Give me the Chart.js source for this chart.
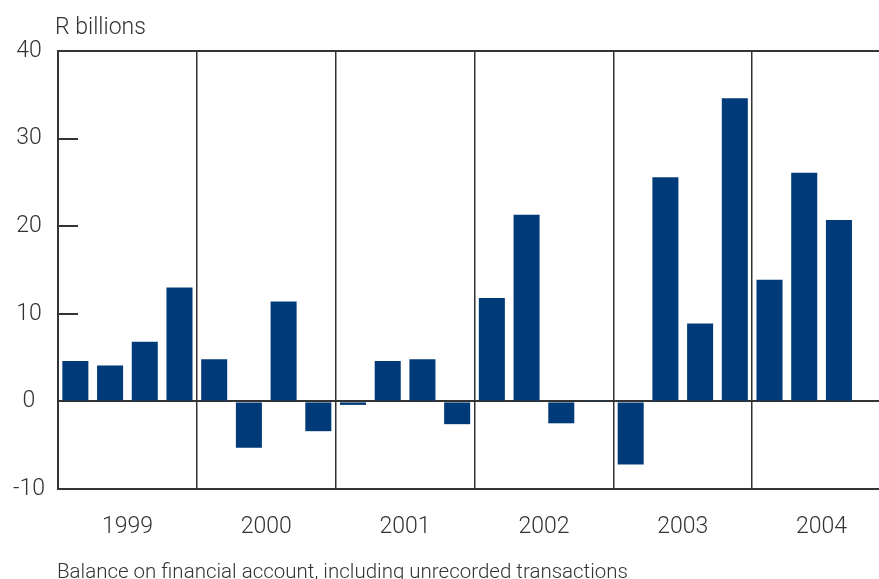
<!DOCTYPE html>
<html>
<head>
<meta charset="utf-8">
<script src="https://cdn.jsdelivr.net/npm/chart.js@4/dist/chart.umd.min.js"></script>
<style>
  html, body { margin: 0; padding: 0; background: #fff; overflow: hidden; width: 879px; height: 579px; }
  #wrap { position: relative; width: 879px; height: 579px; overflow: hidden; }
  canvas { position: absolute; left: 0; top: 0; }
  .txt { position: absolute; font-family: Roboto, "Liberation Sans", sans-serif; font-weight: 300; color: #333; line-height: 1; white-space: nowrap; }
  #unit { left: 55px; top: 15px; font-size: 23px; }
  #note { left: 57px; top: 561px; font-size: 20.5px; }
</style>
</head>
<body>
<div id="wrap">
  <canvas id="chart" width="900" height="579"></canvas>
  <div class="txt" id="unit">R billions</div>
  <div class="txt" id="note">Balance on financial account, including unrecorded transactions</div>
</div>
<script>
// Jahre und Quartale
const years = ['1999', '2000', '2001', '2002', '2003', '2004'];
const quarters = ['Q1', 'Q2', 'Q3', 'Q4'];
const quarterLabels = years.flatMap(y => quarters.map(q => y + ' ' + q));

// Saldo der Kapitalbilanz, R Mrd. (2004 Q4 fehlt)
const balance = [
    4.6, 4.1, 6.8, 13.0,
    4.8, -5.3, 11.4, -3.4,
    -0.4, 4.6, 4.8, -2.6,
    11.8, 21.3, -2.5, 0.15,
    -7.2, 25.6, 8.9, 34.6,
    13.9, 26.1, 20.7, null
];

const yTicks = [-10, 0, 10, 20, 30, 40];

const lineColor = '#333333';
const barColor = '#003a79';

// kurze Striche nach innen bei 10, 20, 30
const innerTicks = {
    id: 'innerTicks',
    afterDraw(chart) {
        const { ctx, chartArea, scales } = chart;
        ctx.save();
        ctx.strokeStyle = lineColor;
        ctx.lineWidth = 2;
        yTicks.filter(v => v > 0 && v < 40).forEach(v => {
            const y = Math.round(scales.y.getPixelForValue(v));
            ctx.beginPath();
            ctx.moveTo(chartArea.left, y);
            ctx.lineTo(chartArea.left + 20, y);
            ctx.stroke();
        });
        ctx.restore();
    }
};

const ctx = document.getElementById('chart').getContext('2d');

const chart = new Chart(ctx, {
    type: 'bar',
    data: {
        labels: quarterLabels,
        datasets: [{
            label: 'Balance',
            data: balance,
            xAxisID: 'q',
            backgroundColor: barColor,
            borderWidth: 0,
            categoryPercentage: 1,
            barPercentage: 0.75
        }]
    },
    options: {
        responsive: false,
        animation: false,
        layout: { padding: { top: 51, right: 9, left: 0, bottom: 0 } },
        plugins: {
            legend: { display: false },
            tooltip: { enabled: false }
        },
        scales: {
            q: {
                type: 'category',
                labels: quarterLabels,
                display: false,
                offset: true
            },
            x: {
                type: 'category',
                labels: years,
                position: 'bottom',
                offset: true,
                afterFit: s => { s.height = 90; },
                grid: {
                    offset: true,
                    drawTicks: false,
                    color: lineColor,
                    lineWidth: 1.5
                },
                border: { display: true, color: lineColor, width: 2 },
                ticks: {
                    padding: 24,
                    color: '#333',
                    font: { family: 'Roboto', size: 23, weight: 300 }
                }
            },
            y: {
                min: -10,
                max: 40,
                z: 1,
                afterFit: s => { s.width = 58; },
                afterBuildTicks: s => { s.ticks = yTicks.map(v => ({ value: v })); },
                grid: {
                    drawTicks: false,
                    lineWidth: 2,
                    color: c => (c.tick && (c.tick.value === 0 || c.tick.value === 40)) ? lineColor : 'rgba(0,0,0,0)'
                },
                border: { display: true, color: lineColor, width: 2 },
                ticks: {
                    crossAlign: 'center',
                    padding: 13,
                    color: '#333',
                    font: { family: 'Roboto', size: 23, weight: 300 }
                }
            }
        }
    },
    plugins: [innerTicks]
});
</script>
</body>
</html>
